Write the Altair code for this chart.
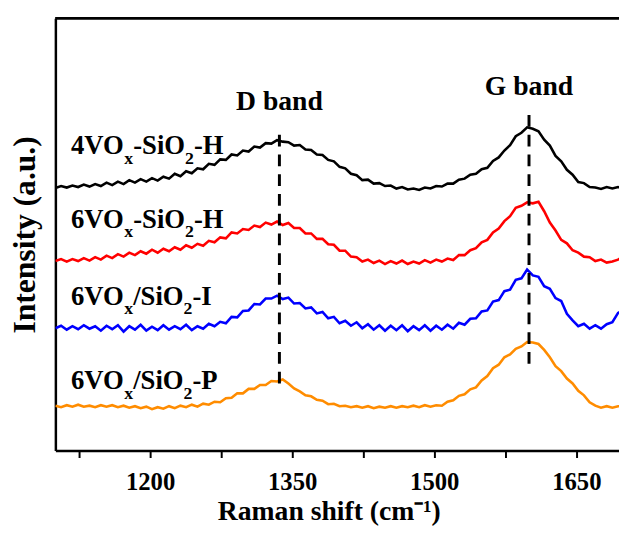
import altair as alt
import pandas as pd

# Raman shift sampling positions (cm-1)
wavenumber = list(range(1100, 1701, 6))

# Intensities (a.u., stacked offsets)
s_4VOx_SiO2_H = [275, 277, 275.5, 277.5, 276, 278.5, 276.5, 279, 277, 280.5,
                 278, 281.5, 279, 283, 280.5, 284, 281.5, 285, 282.5, 286.5,
                 284.5, 289.5, 287, 292, 290, 295, 294, 299.5, 298.5, 304,
                 303.5, 309, 308, 313, 312, 317, 316, 320.5, 320, 323.5,
                 322, 321.5, 318, 318.5, 314, 313.5, 309, 308.5, 303.5, 302,
                 296.5, 295, 289.5, 288, 283, 283.5, 279.5, 280, 277, 277.5,
                 274.5, 276, 273.5, 274.5, 273, 275.5, 274.5, 277, 276.5, 279.5,
                 279.5, 283.5, 284.5, 288.5, 289.5, 294, 295.5, 302.5, 306, 313,
                 318.5, 327.5, 331, 336.5, 335, 332.5, 324, 318, 307.5, 302,
                 293.5, 288.5, 281, 280, 276, 275.5, 274, 276, 274.5, 276,
                 275]
s_6VOx_SiO2_H = [201, 203, 200.5, 203, 201, 204, 201.5, 205, 202.5, 206.5,
                 204, 208, 205.5, 209.5, 207, 211, 208.5, 212.5, 209.5, 213.5,
                 211, 215, 212.5, 217, 214.5, 218.5, 216.5, 221.5, 220, 225,
                 224, 230, 229, 233.5, 232.5, 237, 235.5, 240, 238, 241,
                 237.5, 239.5, 234.5, 234.5, 229, 229, 223.5, 223.5, 218, 217.5,
                 211.5, 211.5, 205.5, 205, 200.5, 202.5, 199, 201.5, 198, 201,
                 198.5, 201.5, 198, 200.5, 198.5, 202, 199.5, 202.5, 200.5, 203.5,
                 202, 207, 207, 212, 214, 220, 222.5, 230, 234, 241.5,
                 246.5, 255, 257, 260.5, 259.5, 261, 251.5, 240, 232, 222.5,
                 219, 212, 209.5, 205.5, 205, 201, 202.5, 199.5, 200.5, 202.5,
                 206]
s_6VOx_SiO2_I = [133, 135.5, 131.5, 135, 132, 136, 132.5, 135, 130.5, 135.5,
                 132, 136, 129.5, 135, 131.5, 136.5, 130.5, 134.5, 131, 136,
                 131.5, 135, 132, 136.5, 131, 135, 132.5, 137.5, 135, 139.5,
                 138, 144.5, 144, 150.5, 151, 157.5, 157, 163, 163, 166,
                 162.5, 164, 158, 158.5, 153, 154, 148, 149.5, 143, 144.5,
                 138, 140.5, 135.5, 139, 133, 137, 131.5, 136, 130.5, 135.5,
                 131, 136, 130, 135, 131, 136, 130.5, 135.5, 131.5, 136.5,
                 132.5, 138.5, 136.5, 142.5, 143, 150, 151, 160, 161.5, 170.5,
                 172, 182, 183.5, 192.5, 186.5, 185, 175.5, 173, 163.5, 160.5,
                 147.5, 141, 135, 137.5, 132.5, 136, 132.5, 137, 139, 148.5,
                 151]
s_6VOx_SiO2_P = [54.5, 53, 55, 53.5, 55.5, 53.5, 54.5, 53, 55, 53.5,
                 55, 53, 54.5, 52.5, 54, 52, 53.5, 51, 53, 51.5,
                 54, 52, 54.5, 53, 55.5, 53.5, 56.5, 55.5, 58.5, 58,
                 62, 62.5, 67, 67, 71.5, 71.5, 75.5, 75.5, 79.5, 79,
                 81, 77, 72, 69, 65, 64, 60.5, 59.5, 56, 56.5,
                 54, 54.5, 53, 54, 52.5, 54, 52, 53.5, 52.5, 54,
                 52.5, 54, 53, 54.5, 53, 55, 53.5, 55, 54.5, 58.5,
                 60, 64.5, 66, 71, 73, 80, 84.5, 92.5, 96, 103.5,
                 106.5, 112, 114.5, 119, 118.5, 117, 111, 103.5, 94.5, 89.5,
                 82, 77, 69.5, 65, 58, 54.5, 52.5, 54, 52.5, 54,
                 53.5]

series_names = ["4VOx-SiO2-H", "6VOx-SiO2-H", "6VOx/SiO2-I", "6VOx/SiO2-P"]
series_values = [s_4VOx_SiO2_H, s_6VOx_SiO2_H, s_6VOx_SiO2_I, s_6VOx_SiO2_P]
series_colors = ["#000000", "#FF0000", "#0000FF", "#FF8C00"]

# label text pieces: main, subscript, main, subscript, main
label_parts = [("4VO", "x", "-SiO", "2", "-H"),
               ("6VO", "x", "-SiO", "2", "-H"),
               ("6VO", "x", "/SiO", "2", "-I"),
               ("6VO", "x", "/SiO", "2", "-P")]
label_x = 1116.5
label_y = [309, 235, 157, 71]

band_names = ["D band", "G band"]
band_pos = [1336.5, 1600]
band_label_y = [354, 369]
band_dash_low = [77, 97]
band_dash_high = [334, 355]

tick_values = [1125, 1200, 1275, 1350, 1425, 1500, 1575, 1650]

FONT = "Liberation Serif"
W, H = 571, 438

rows = []
for name, vals in zip(series_names, series_values):
    for x, v in zip(wavenumber, vals):
        rows.append({"series": name, "shift": x, "intensity": v})
df = pd.DataFrame(rows)

x_scale = alt.Scale(domain=[1100, 1695], nice=False, zero=False)
y_scale = alt.Scale(domain=[9, 447], nice=False, zero=False)

lines = alt.Chart(df).mark_line(strokeWidth=2.6, clip=True).encode(
    x=alt.X("shift:Q", scale=x_scale,
            axis=alt.Axis(title="Raman shift (cm⁻¹)", values=tick_values, format="d",
                          labelExpr="datum.value % 150 == 0 ? datum.label : ''",
                          tickSize=7, tickWidth=2, tickColor="black",
                          domainColor="black", domainWidth=2.5,
                          labelFont=FONT, labelFontSize=25, labelFontWeight="bold",
                          labelColor="black", labelPadding=12,
                          titleFont=FONT, titleFontSize=28, titleFontWeight="bold",
                          titleColor="black", titlePadding=4, titleX=277,
                          titleAlign="center", grid=False)),
    y=alt.Y("intensity:Q", scale=y_scale,
            axis=alt.Axis(title="Intensity (a.u.)", labels=False, ticks=False,
                          domainColor="black", domainWidth=2.5,
                          titleFont=FONT, titleFontSize=32, titleFontWeight="bold",
                          titleColor="black", titlePadding=14, grid=False)),
    color=alt.Color("series:N", scale=alt.Scale(domain=series_names, range=series_colors),
                    legend=None),
)

band_df = pd.DataFrame({"band": band_names, "pos": band_pos, "ly": band_label_y,
                        "lo": band_dash_low, "hi": band_dash_high})
dashes = alt.Chart(band_df).mark_rule(strokeDash=[12, 8], strokeWidth=3, color="black").encode(
    x=alt.X("pos:Q", scale=x_scale), y=alt.Y("lo:Q", scale=y_scale), y2="hi:Q")
band_text = alt.Chart(band_df).mark_text(font=FONT, fontSize=28, fontWeight="bold",
                                         baseline="alphabetic", align="center", color="black").encode(
    x=alt.X("pos:Q", scale=x_scale), y=alt.Y("ly:Q", scale=y_scale), text="band:N")

top_rule = alt.Chart(band_df).mark_rule(strokeWidth=2.5, color="black").encode(
    x=alt.value(0), x2=alt.value(W), y=alt.value(0))

# Times/Liberation Serif Bold advance widths (per 1000 em)
adv = {'4': 500, '6': 500, 'V': 722, 'O': 778, '-': 333, 'S': 556, 'i': 278, 'H': 778,
       '/': 278, 'I': 389, 'P': 611, 'x': 500, '2': 500}
MAIN, SUB = 27, 18


def tw(s, size):
    return sum(adv[c] for c in s) * size / 1000.0


label_layers = []
for parts, ly in zip(label_parts, label_y):
    dx = 0.0
    for k, part in enumerate(parts):
        is_sub = k % 2 == 1
        size = SUB if is_sub else MAIN
        ldf = pd.DataFrame({"t": [part], "x": [label_x], "y": [ly]})
        label_layers.append(
            alt.Chart(ldf).mark_text(font=FONT, fontSize=size, fontWeight="bold", align="left",
                                     baseline="alphabetic", dx=dx, dy=10 if is_sub else 0,
                                     color="black").encode(
                x=alt.X("x:Q", scale=x_scale), y=alt.Y("y:Q", scale=y_scale), text="t:N"))
        dx += tw(part, size)

chart = alt.layer(lines, dashes, band_text, top_rule, *label_layers).properties(
    width=W, height=H, autosize="none",
    padding={"left": 48, "top": 7, "right": 0, "bottom": 73},
).configure_view(stroke=None)

chart.save("out.html", embed_options={"renderer": "svg", "actions": False})
